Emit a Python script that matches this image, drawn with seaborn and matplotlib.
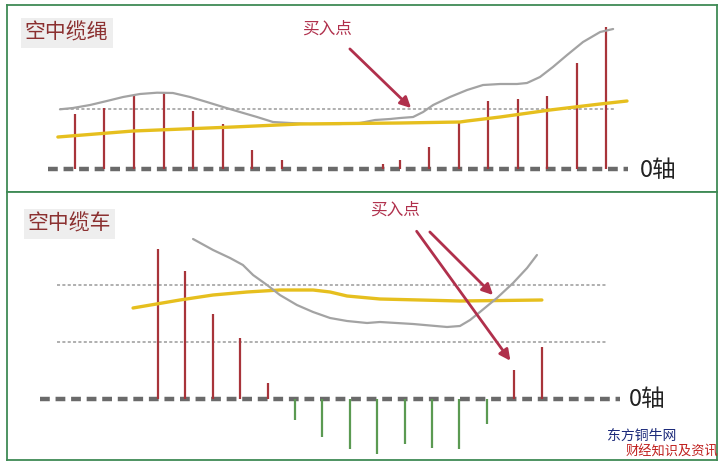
import numpy as np
import pandas as pd
import matplotlib
matplotlib.use("Agg")
import matplotlib.pyplot as plt
import seaborn as sns

# ==========================================
# Data
# ==========================================

# top panel: 空中缆绳
rope_bar_x = [0, 1, 2, 3, 4, 5, 6, 7, 10.45, 11, 12, 13, 14, 15, 16, 17, 18]
rope_bar_v = [5.5, 6.1, 7.3, 7.6, 5.8, 4.5, 1.9, 0.9, 0.5, 0.9, 2.2, 4.7, 6.8, 7.0, 7.3, 10.6, 14.2]

rope_gray_x = [-0.51, -0.07, 0.51, 1.08, 1.63, 2.2, 2.78, 3.32, 3.9, 4.47, 5.02, 5.59,
               6.17, 6.71, 7.29, 7.97, 8.98, 9.66, 10.17, 10.68, 11.02, 11.46, 11.8,
               12.14, 12.71, 13.29, 13.83, 14.41, 14.98, 15.32, 15.76, 16.2, 16.68,
               17.22, 17.8, 18.24]
rope_gray_v = [5.97, 6.1, 6.4, 6.8, 7.2, 7.5, 7.63, 7.6, 7.2, 6.7, 6.2, 5.7,
               5.2, 4.7, 4.6, 4.5, 4.5, 4.6, 4.9, 5.0, 5.1, 5.2, 5.7,
               6.4, 7.2, 7.9, 8.4, 8.5, 8.5, 8.6, 9.2, 10.2, 11.4,
               12.7, 13.7, 14.0]

rope_yellow_x = [-0.58, 1.97, 5.36, 7.63, 11.02, 13.05, 13.29, 14.41, 16.1, 17.8, 18.71]
rope_yellow_v = [3.2, 3.8, 4.2, 4.5, 4.6, 4.7, 4.8, 5.2, 5.9, 6.5, 6.8]

rope_level = 6.0

# bottom panel: 空中缆车
car_bar_x = list(range(15))
car_bar_v = [15.0, 12.8, 8.5, 6.1, 1.6, -2.1, -3.8, -5.0, -5.5, -4.5, -4.9, -5.0, -2.5, 2.9, 5.2]

car_gray_x = [1.28, 2.01, 2.63, 3.1, 3.47, 3.98, 4.45, 5.07, 5.66, 6.28, 6.9, 7.63, 8.1,
              9.31, 10.55, 11.02, 11.39, 11.75, 12.37, 12.96, 13.47, 13.83]
car_gray_v = [16.0, 14.9, 14.1, 13.4, 12.4, 11.4, 10.4, 9.4, 8.7, 8.1, 7.8, 7.6, 7.7,
              7.5, 7.2, 7.3, 7.9, 8.7, 10.1, 11.6, 13.1, 14.4]

car_yellow_x = [-0.91, 0.8, 2.01, 3.25, 4.45, 5.66, 6.28, 6.9, 8.1, 11.02, 14.01]
car_yellow_v = [9.1, 9.9, 10.4, 10.7, 10.9, 10.9, 10.7, 10.3, 10.0, 9.8, 9.9]

car_levels = [11.4, 5.7]

# ==========================================
# Style
# ==========================================

sns.set_style("white")
plt.rcParams["font.family"] = ["Noto Sans CJK SC", "DejaVu Sans"]

RED = "#a8343a"
GREEN = "#5b9a52"
GRAY = "#a3a3a3"
YELLOW = "#e6bf1e"
ZERO = "#6a6a6a"
ARROW = "#b0304c"
BORDER = "#3f8a55"
TITLE = "#8b3030"

fig = plt.figure(figsize=(7.21, 4.63), dpi=100)
ax1 = fig.add_axes([0.0097, 0.5853, 0.9847, 0.4039])
ax2 = fig.add_axes([0.0097, 0.0065, 0.9847, 0.5788])

for ax in (ax1, ax2):
    ax.set_xticks([])
    ax.set_yticks([])
    for s in ax.spines.values():
        s.set_color(BORDER)
        s.set_linewidth(1.3)


def zero_axis(ax, x0, x1):
    ax.plot([x0, x1], [0, 0], color=ZERO, lw=3.2, dashes=(2.2, 1.3), zorder=1)


def dotted(ax, y, x0, x1):
    ax.plot([x0, x1], [y, y], color="#9a9a9a", lw=1.1, dashes=(2, 1.5), zorder=1)


# ==========================================
# Top panel
# ==========================================

ax1.set_xlim(-2.305, 21.76)
ax1.set_ylim(-2.3, 16.4)

dotted(ax1, rope_level, -0.5, 18.27)
zero_axis(ax1, -0.92, 18.75)
ax1.vlines(rope_bar_x, 0, rope_bar_v, color=RED, lw=1.6, zorder=2)
sns.lineplot(x=rope_gray_x, y=rope_gray_v, ax=ax1, color=GRAY, lw=1.6, sort=False, zorder=3)
sns.lineplot(x=rope_yellow_x, y=rope_yellow_v, ax=ax1, color=YELLOW, lw=2.4, sort=False, zorder=3)

ax1.text(-1.7, 13.6, "空中缆绳", color=TITLE, fontsize=15, va="center", ha="left",
         bbox=dict(facecolor="#eeeeee", edgecolor="none", pad=3))
ax1.text(8.55, 14.0, "买入点", color=ARROW, fontsize=12, va="center", ha="center")
ax1.annotate("", xy=(11.46, 5.9), xytext=(9.25, 12.2),
             arrowprops=dict(arrowstyle="-|>", color=ARROW, lw=2, mutation_scale=16))
ax1.text(19.15, -0.1, "0轴", color="#222222", fontsize=17, va="center", ha="left")

# ==========================================
# Bottom panel
# ==========================================

ax2.set_xlim(-5.51, 20.40)
ax2.set_ylim(-6.1, 20.7)

for lv in car_levels:
    dotted(ax2, lv, -3.69, 16.39)
zero_axis(ax2, -4.31, 16.86)

bar_colors = [RED if v > 0 else GREEN for v in car_bar_v]
ax2.vlines(car_bar_x, 0, car_bar_v, colors=bar_colors, lw=1.6, zorder=2)
sns.lineplot(x=car_yellow_x, y=car_yellow_v, ax=ax2, color=YELLOW, lw=2.4, sort=False, zorder=3)
sns.lineplot(x=car_gray_x, y=car_gray_v, ax=ax2, color=GRAY, lw=1.6, sort=False, zorder=3)

ax2.text(-4.75, 17.5, "空中缆车", color=TITLE, fontsize=15, va="center", ha="left",
         bbox=dict(facecolor="#eeeeee", edgecolor="none", pad=3))
ax2.text(8.65, 18.9, "买入点", color=ARROW, fontsize=12, va="center", ha="center")
ax2.annotate("", xy=(12.3, 10.2), xytext=(9.85, 16.9),
             arrowprops=dict(arrowstyle="-|>", color=ARROW, lw=2, mutation_scale=16))
ax2.annotate("", xy=(12.92, 3.6), xytext=(9.38, 17.0),
             arrowprops=dict(arrowstyle="-|>", color=ARROW, lw=2, mutation_scale=16))
ax2.text(17.2, -0.1, "0轴", color="#222222", fontsize=17, va="center", ha="left")

# watermark
fig.text(0.842, 0.058, "东方铜牛网", color="#1c2a7a", fontsize=10, ha="left", va="center")
fig.text(0.867, 0.024, "财经知识及资讯", color="#c0201e", fontsize=9.5, ha="left", va="center")

plt.savefig("out.png", dpi=100)
